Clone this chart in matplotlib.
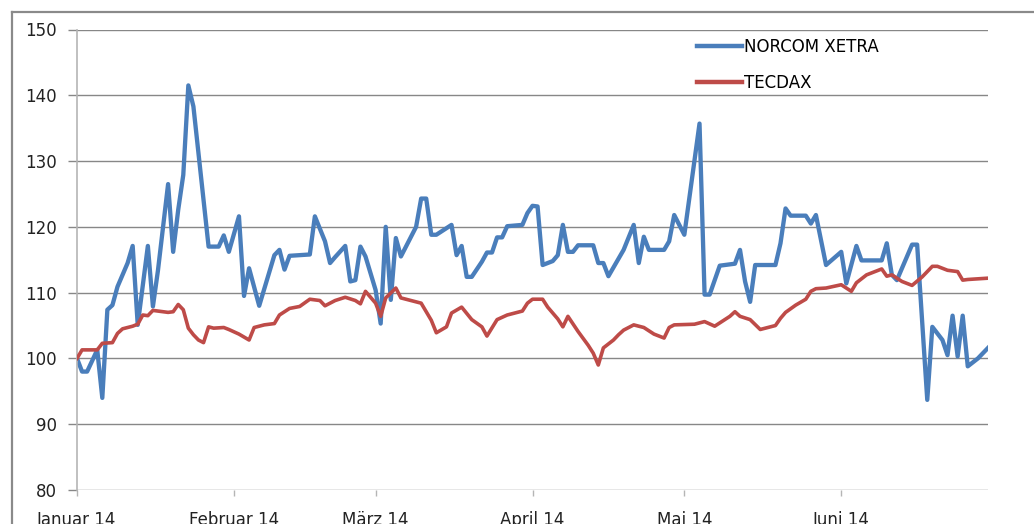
import matplotlib
matplotlib.use("Agg")
import matplotlib.pyplot as plt
from matplotlib.lines import Line2D
import pandas as pd

start_date = "2014-01-01"
end_date = "2014-06-30"

norcom_days = [0, 1, 2, 4, 5, 6, 7, 8, 9, 10, 11, 12, 14, 15, 16, 18, 19, 20, 21, 22,
               23, 26, 28, 29, 30, 32, 33, 34, 36, 39, 40, 41, 42, 46, 47, 49, 50, 51, 53, 54,
               55, 56, 57, 59, 60, 61, 62, 63, 64, 67, 68, 69, 70, 71, 74, 75, 76, 77, 78, 80,
               81, 82, 83, 84, 85, 88, 89, 90, 91, 92, 94, 95, 96, 97, 98, 99, 102, 103, 104, 105,
               108, 110, 111, 112, 113, 116, 117, 118, 120, 123, 124, 125, 127, 130, 131, 132, 133, 134, 138, 139,
               140, 141, 144, 145, 146, 148, 151, 152, 154, 155, 159, 160, 161, 162, 164, 165, 166, 168, 169, 171,
               172, 173, 174, 175, 176, 178, 180]
norcom_values = [100.0, 98.0, 98.0, 101.3, 94.0, 107.4, 108.1, 110.9, 112.7, 114.5, 117.1, 105.1, 117.1, 107.9, 113.4, 126.5, 116.2, 122.6, 127.9, 141.5,
                 138.3, 117.0, 117.0, 118.7, 116.2, 121.6, 109.5, 113.7, 108.0, 115.7, 116.5, 113.5, 115.6, 115.8, 121.6, 117.8, 114.5, 115.4, 117.1, 111.7,
                 111.9, 117.0, 115.5, 110.4, 105.3, 120.0, 108.9, 118.3, 115.5, 120.0, 124.3, 124.3, 118.8, 118.8, 120.3, 115.7, 117.1, 112.4, 112.4, 114.7,
                 116.1, 116.1, 118.4, 118.4, 120.1, 120.3, 122.1, 123.2, 123.1, 114.2, 114.8, 115.7, 120.3, 116.2, 116.2, 117.2, 117.2, 114.5, 114.5, 112.5,
                 116.5, 120.3, 114.5, 118.5, 116.5, 116.5, 117.8, 121.8, 118.8, 135.7, 109.7, 109.7, 114.1, 114.4, 116.5, 111.7, 108.6, 114.2, 114.2, 117.5,
                 122.8, 121.7, 121.7, 120.5, 121.8, 114.2, 116.2, 111.4, 117.1, 114.9, 114.9, 117.5, 112.7, 111.9, 115.5, 117.3, 117.3, 93.7, 104.8, 102.8,
                 100.5, 106.5, 100.3, 106.5, 98.8, 100.0, 101.6]

tecdax_days = [0, 1, 4, 5, 7, 8, 9, 11, 12, 13, 14, 15, 18, 19, 20, 21, 22, 23, 24, 25,
               26, 27, 29, 30, 32, 34, 35, 37, 39, 40, 42, 44, 46, 48, 49, 51, 53, 55, 56, 57,
               59, 60, 61, 63, 64, 66, 68, 70, 71, 73, 74, 76, 78, 80, 81, 83, 85, 87, 88, 89,
               90, 92, 93, 95, 96, 97, 99, 101, 102, 103, 104, 106, 107, 108, 110, 112, 114, 116, 117, 118,
               122, 124, 126, 127, 129, 130, 131, 133, 135, 138, 139, 140, 142, 144, 145, 146, 148, 151, 153, 154,
               156, 157, 159, 160, 161, 163, 165, 167, 169, 170, 172, 174, 175, 176, 180]
tecdax_values = [100.0, 101.3, 101.3, 102.3, 102.4, 103.8, 104.5, 104.9, 105.2, 106.6, 106.5, 107.3, 107.0, 107.1, 108.2, 107.4, 104.6, 103.6, 102.8, 102.4,
                 104.8, 104.6, 104.7, 104.4, 103.7, 102.8, 104.7, 105.1, 105.3, 106.6, 107.6, 107.9, 109.0, 108.8, 108.0, 108.8, 109.3, 108.8, 108.3, 110.2,
                 108.4, 106.4, 109.2, 110.7, 109.2, 108.8, 108.4, 105.8, 103.9, 104.8, 106.9, 107.8, 105.9, 104.8, 103.4, 105.9, 106.6, 107.0, 107.2, 108.4,
                 109.0, 109.0, 107.8, 106.0, 104.8, 106.4, 104.1, 102.0, 100.8, 99.0, 101.6, 102.8, 103.6, 104.3, 105.1, 104.7, 103.7, 103.1, 104.7, 105.1,
                 105.2, 105.6, 104.9, 105.4, 106.4, 107.1, 106.4, 105.9, 104.4, 105.0, 106.1, 107.0, 108.1, 109.0, 110.2, 110.6, 110.7, 111.2, 110.2, 111.5,
                 112.7, 113.0, 113.6, 112.5, 112.7, 111.7, 111.1, 112.4, 114.0, 114.0, 113.4, 113.2, 111.9, 112.0, 112.2]

series_names = ["NORCOM XETRA", "TECDAX"]
month_ticks = ["2014-01-01", "2014-02-01", "2014-03-01", "2014-04-01", "2014-05-01", "2014-06-01"]
month_labels = ["Januar 14", "Februar 14", "März 14", "April 14", "Mai 14", "Juni 14"]
y_ticks = [80, 90, 100, 110, 120, 130, 140, 150]

base = pd.Timestamp(start_date)
norcom_dates = base + pd.to_timedelta(norcom_days, unit="D")
tecdax_dates = base + pd.to_timedelta(tecdax_days, unit="D")

plt.rcParams["font.family"] = ["DejaVu Sans"]

fig = plt.figure(figsize=(10.34, 5.24), dpi=100)
ax = fig.add_axes([77 / 1034, 34 / 524, (988 - 77) / 1034, (490 - 29.5) / 524])

grid_col = "#878787"
for v in y_ticks:
    ax.axhline(v, color=grid_col, lw=1.0, zorder=1)

blue = "#4A7EBB"
red = "#BE4B48"
ax.plot(tecdax_dates, tecdax_values, color=red, lw=2.6, zorder=3,
        solid_joinstyle="round", label=series_names[1])
ax.plot(norcom_dates, norcom_values, color=blue, lw=3.1, zorder=2,
        solid_joinstyle="round", label=series_names[0])

ax.set_xlim(pd.Timestamp(start_date), pd.Timestamp(end_date))
ax.set_ylim(80, 150)
ax.set_yticks(y_ticks)
ax.set_yticklabels([str(v) for v in y_ticks])
ax.set_xticks(pd.to_datetime(month_ticks))
ax.set_xticklabels(month_labels)

for s in ["top", "right", "bottom"]:
    ax.spines[s].set_visible(False)
ax.spines["left"].set_color("#b5b5b5")
ax.spines["left"].set_linewidth(1.2)
ax.spines["left"].set_bounds(80, 150)

ax.tick_params(axis="y", length=6.5, width=1.0, color=grid_col, pad=8,
               labelsize=12, labelcolor="#222222")
ax.tick_params(axis="x", length=4, width=1.0, color="#b5b5b5", pad=11,
               labelsize=12, labelcolor="#222222")
ax.set_facecolor("none")

handles = [Line2D([], [], color=blue, lw=3.2), Line2D([], [], color=red, lw=3.2)]
fig.legend(handles, series_names, loc="upper left",
           bbox_to_anchor=(697 / 1034, 1 - 38 / 524), frameon=False,
           fontsize=12, handlelength=2.7, handletextpad=0.15,
           labelspacing=1.05, borderpad=0, borderaxespad=0)

border_col = "#8a8a8a"
fig.add_artist(Line2D([11.5 / 1034, 11.5 / 1034], [0, 1 - 11.5 / 524],
                      transform=fig.transFigure, color=border_col, lw=1.6))
fig.add_artist(Line2D([11.5 / 1034, 1.0], [1 - 11.5 / 524, 1 - 11.5 / 524],
                      transform=fig.transFigure, color=border_col, lw=1.6))

fig.savefig("out.png", dpi=100, facecolor="white")
